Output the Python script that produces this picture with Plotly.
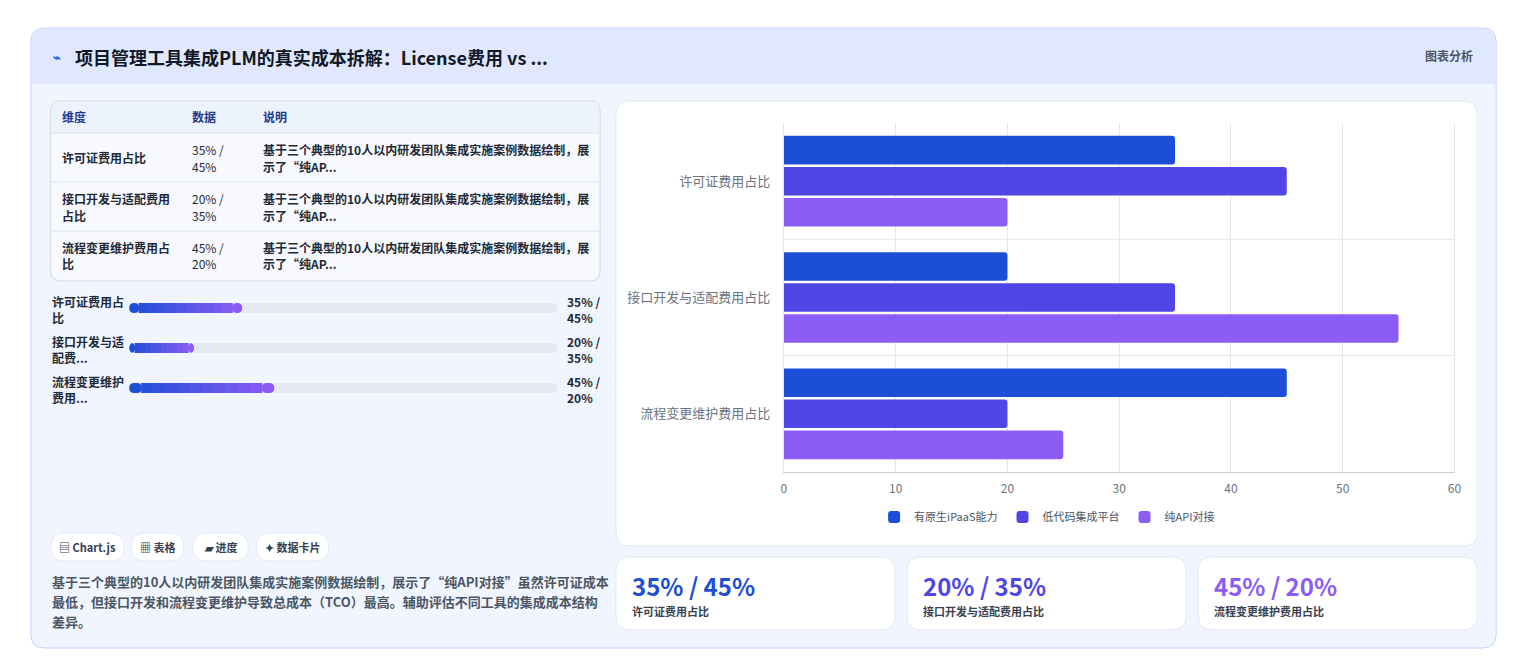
import plotly.graph_objects as go

W, H = 1516, 663

categories = ["许可证费用占比", "接口开发与适配费用占比", "流程变更维护费用占比"]
series_names = ["有原生iPaaS能力", "低代码集成平台", "纯API对接"]
series_values = [
    [35, 20, 45],
    [45, 35, 20],
    [20, 55, 25],
]
series_colors = ["#1d4ed8", "#4f46e5", "#8b5cf6"]
x_ticks = [0, 10, 20, 30, 40, 50, 60]

table_names = [["许可证费用占比"], ["接口开发与适配费用", "占比"], ["流程变更维护费用占", "比"]]
table_data = [["35% /", "45%"], ["20% /", "35%"], ["45% /", "20%"]]
table_note = ["基于三个典型的10人以内研发团队集成实施案例数据绘制，展", "示了“纯AP..."]

progress_labels = [["许可证费用占", "比"], ["接口开发与适", "配费..."], ["流程变更维护", "费用..."]]
progress_values = [35, 20, 45]
progress_text = [["35% /", "45%"], ["20% /", "35%"], ["45% /", "20%"]]

kpi_values = ["35% / 45%", "20% / 35%", "45% / 20%"]
kpi_labels = ["许可证费用占比", "接口开发与适配费用占比", "流程变更维护费用占比"]
kpi_colors = ["#1d4ed8", "#4f46e5", "#8b5cf6"]

chips = ["▤ Chart.js", "▦ 表格", "▰ 进度", "✦ 数据卡片"]
description = [
    "基于三个典型的10人以内研发团队集成实施案例数据绘制，展示了“纯API对接”虽然许可证成本",
    "最低，但接口开发和流程变更维护导致总成本（TCO）最高。辅助评估不同工具的集成成本结构",
    "差异。",
]

FONT = "Noto Sans CJK SC"


def px(x):
    return x / W


def py(y):
    return 1 - y / H


def rrect(x0, y0, x1, y1, r, fill, line=None, lw=1):
    X0, X1 = px(x0), px(x1)
    Y0, Y1 = py(y0), py(y1)
    rx, ry = r / W, r / H
    path = (
        f"M{X0+rx},{Y0} L{X1-rx},{Y0} Q{X1},{Y0} {X1},{Y0-ry} "
        f"L{X1},{Y1+ry} Q{X1},{Y1} {X1-rx},{Y1} L{X0+rx},{Y1} "
        f"Q{X0},{Y1} {X0},{Y1+ry} L{X0},{Y0-ry} Q{X0},{Y0} {X0+rx},{Y0} Z"
    )
    return dict(type="path", path=path, xref="paper", yref="paper", fillcolor=fill,
                line=dict(color=line or fill, width=lw if line else 0), layer="below")


def text(x, y, s, size=12, color="#1f2937", bold=False, anchor="left"):
    return dict(x=px(x), y=py(y), xref="paper", yref="paper", text=f"<b>{s}</b>" if bold else s,
                showarrow=False, xanchor=anchor, yanchor="middle",
                font=dict(family=FONT, size=size, color=color))


shapes, annots = [], []

# outer card + header
shapes.append(rrect(20, 20, 1495, 640, 14, "#f0f5ff", "#c7d2fe", 1))
shapes.append(rrect(21, 21, 1494, 76, 13, "#dfe8fe"))
shapes.append(dict(type="rect", xref="paper", yref="paper", x0=px(21), x1=px(1494), y0=py(76), y1=py(60),
                   fillcolor="#dfe8fe", line=dict(width=0), layer="below"))
annots.append(text(40, 49, "⌁", 13, "#2563eb", True))
annots.append(text(62, 49, "项目管理工具集成PLM的真实成本拆解：License费用 vs ...", 18, "#111827", True))
annots.append(text(1474, 48, "图表分析", 12, "#4b5563", True, "right"))

# table
shapes.append(rrect(40, 93, 593, 273, 10, "#f7f9fe", "#d1d9e6", 1))
shapes.append(dict(type="path", xref="paper", yref="paper", fillcolor="#edf3fd", line=dict(width=0), layer="below",
                   path=f"M{px(41)},{py(125)} L{px(41)},{py(103)} Q{px(41)},{py(94)} {px(50)},{py(94)} "
                        f"L{px(583)},{py(94)} Q{px(592)},{py(94)} {px(592)},{py(103)} L{px(592)},{py(125)} Z"))
for yy in [125, 174, 223]:
    shapes.append(dict(type="line", xref="paper", yref="paper", x0=px(41), x1=px(592), y0=py(yy), y1=py(yy),
                       line=dict(color="#dde3ee", width=1)))
for x, h in zip([49, 180, 252], ["维度", "数据", "说明"]):
    annots.append(text(x, 109, h, 12, "#1e3a8a", True))
for i in range(3):
    top = 125 + 49 * i
    names = table_names[i]
    if len(names) == 1:
        annots.append(text(49, top + 25, names[0], 12, "#1f2937", True))
    else:
        for j, s in enumerate(names):
            annots.append(text(49, top + 16 + 17 * j, s, 12, "#1f2937", True))
    for j, s in enumerate(table_data[i]):
        annots.append(text(180, top + 16 + 17 * j, s, 12, "#1f2937"))
    for j, s in enumerate(table_note):
        annots.append(text(252, top + 16 + 17 * j, s, 12, "#1f2937", True))

# progress bars
def mix(c1, c2, t):
    a = [int(c1[k:k + 2], 16) for k in (1, 3, 5)]
    b = [int(c2[k:k + 2], 16) for k in (1, 3, 5)]
    return "#" + "".join(f"{round(a[k] + (b[k] - a[k]) * t):02x}" for k in range(3))

track_x0, track_x1 = 119, 550
for i in range(3):
    cy = 300 + 40 * i
    shapes.append(rrect(track_x0, cy - 5, track_x1, cy + 5, 5, "#e5e9f0"))
    end = track_x0 + (track_x1 - track_x0) * progress_values[i] * 0.75 / 100
    n = 12
    seg = (end - track_x0) / n
    for k in range(n):
        a = track_x0 + seg * k
        shapes.append(rrect(a, cy - 5, a + seg + 0.6, cy + 5, 5 if k in (0, n - 1) else 0,
                            mix("#1d4ed8", "#8b5cf6", k / (n - 1))))
    for j, s in enumerate(progress_labels[i]):
        annots.append(text(39, cy - 7 + 16 * j, s, 12, "#1f2937", True))
    for j, s in enumerate(progress_text[i]):
        annots.append(text(558, cy - 7 + 16 * j, s, 12, "#1f2937", True))

# chips
for (x0, x1), s in zip([(40, 114), (121, 174), (183, 239), (247, 320)], chips):
    shapes.append(rrect(x0, 525, x1, 553, 14, "#ffffff", "#e5e9f2", 1))
    annots.append(text((x0 + x1) / 2, 539, s, 11, "#374151", True, "center"))
for j, s in enumerate(description):
    annots.append(text(39, 573 + 20 * j, s, 13, "#4b5563", True))

# chart card
shapes.append(rrect(609, 93, 1476, 538, 14, "#ffffff", "#e5e7eb", 1))
for yv in [0.5, 1.5]:
    shapes.append(dict(type="line", xref="x", yref="y", x0=0, x1=60, y0=yv, y1=yv,
                       line=dict(color="#e5e7eb", width=1)))

# KPI cards
for i, x0 in enumerate([609, 902, 1195]):
    shapes.append(rrect(x0, 549, x0 + 281, 622, 14, "#ffffff", "#e5e7eb", 1))
    annots.append(text(x0 + 14, 577, kpi_values[i], 24, kpi_colors[i], True))
    annots.append(text(x0 + 14, 603, kpi_labels[i], 11, "#374151", True))

fig = go.Figure()
for name, vals, col in zip(series_names, series_values, series_colors):
    fig.add_trace(go.Bar(y=categories, x=vals, name=name, orientation="h",
                         marker=dict(color=col, cornerradius=3, line=dict(width=0))))

fig.update_layout(
    width=W, height=H, margin=dict(l=0, r=0, t=0, b=0),
    paper_bgcolor="#ffffff", plot_bgcolor="rgba(0,0,0,0)",
    font=dict(family=FONT),
    barmode="group", bargap=0.2, bargroupgap=0.08,
    xaxis=dict(domain=[px(778), px(1453)], range=[0, 60], tickvals=x_ticks,
               gridcolor="#e5e7eb", showline=True, linecolor="#c9ced6", zeroline=False,
               tickfont=dict(size=12, color="#6b7280", family=FONT), ticks="", ticklabelstandoff=6),
    yaxis=dict(domain=[py(464), py(115)], autorange="reversed", showgrid=False,
               showline=True, linecolor="#e5e7eb", mirror=True,
               tickfont=dict(size=13, color="#6b7280", family=FONT), ticks="", ticklabelstandoff=10),
    legend=dict(orientation="h", x=px(1043), xanchor="center", y=py(509), yanchor="middle",
                font=dict(size=11, color="#4b5563", family=FONT), bgcolor="rgba(0,0,0,0)"),
    shapes=shapes, annotations=annots,
)

fig.write_html("out.html")
